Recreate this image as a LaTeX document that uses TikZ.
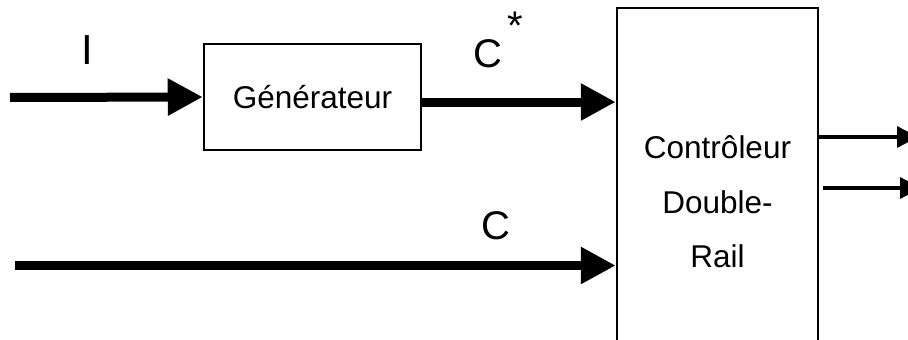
\documentclass[tikz,border=0pt]{standalone}
\usepackage{fontspec}
\setmainfont{Liberation Sans}
\usetikzlibrary{arrows.meta}
\begin{document}
\begin{tikzpicture}[x=1pt,y=-1pt,
  boxstyle/.style={draw=black, line width=2.5pt, rectangle, inner sep=0pt, align=center},
  big/.style={line width=9pt, -{Triangle[length=35pt,width=35pt]}},
  small/.style={line width=3.5pt, -{Triangle[length=21pt,width=21pt]}},
  lbl/.style={inner sep=0pt, font=\fontsize{40}{42}\selectfont}]
\useasboundingbox (0,0) rectangle (908,340);
\clip (0,0) rectangle (908,340);
\node[boxstyle, minimum width=217pt, minimum height=106pt,
      font=\fontsize{31.5}{36}\selectfont] (gen) at (312.5,97) {Générateur};
\node[boxstyle, minimum width=201pt, minimum height=388pt,
      font=\fontsize{31.5}{54.5}\selectfont] (ctrl) at (717.5,202) {Contrôleur\\Double-\\Rail};
\coordinate (i0) at (10,97.5);
\draw[big] (i0) -- (gen.west);
\coordinate (cs) at ([yshift=-5pt]gen.east);
\draw[big] (cs) -- (cs -| ctrl.west);
\coordinate (c0) at (15,265.5);
\draw[big] (c0) -- (c0 -| ctrl.west);
\coordinate (o1) at (918,137);
\draw[small] (o1 -| ctrl.east) -- (o1);
\coordinate (o2s) at (823,188);
\coordinate (o2) at (921,188);
\draw[small] (o2s) -- (o2);
\node[lbl, font=\fontsize{42}{44}\selectfont, anchor=base] (ilbl) at (87,64) {I};
\node[lbl, anchor=base west] (cstar) at (473,67) {C\hspace{5pt}\raisebox{28pt}{*}};
\node[lbl, anchor=base west] (clow) at (481,239) {C};
\end{tikzpicture}
\end{document}
